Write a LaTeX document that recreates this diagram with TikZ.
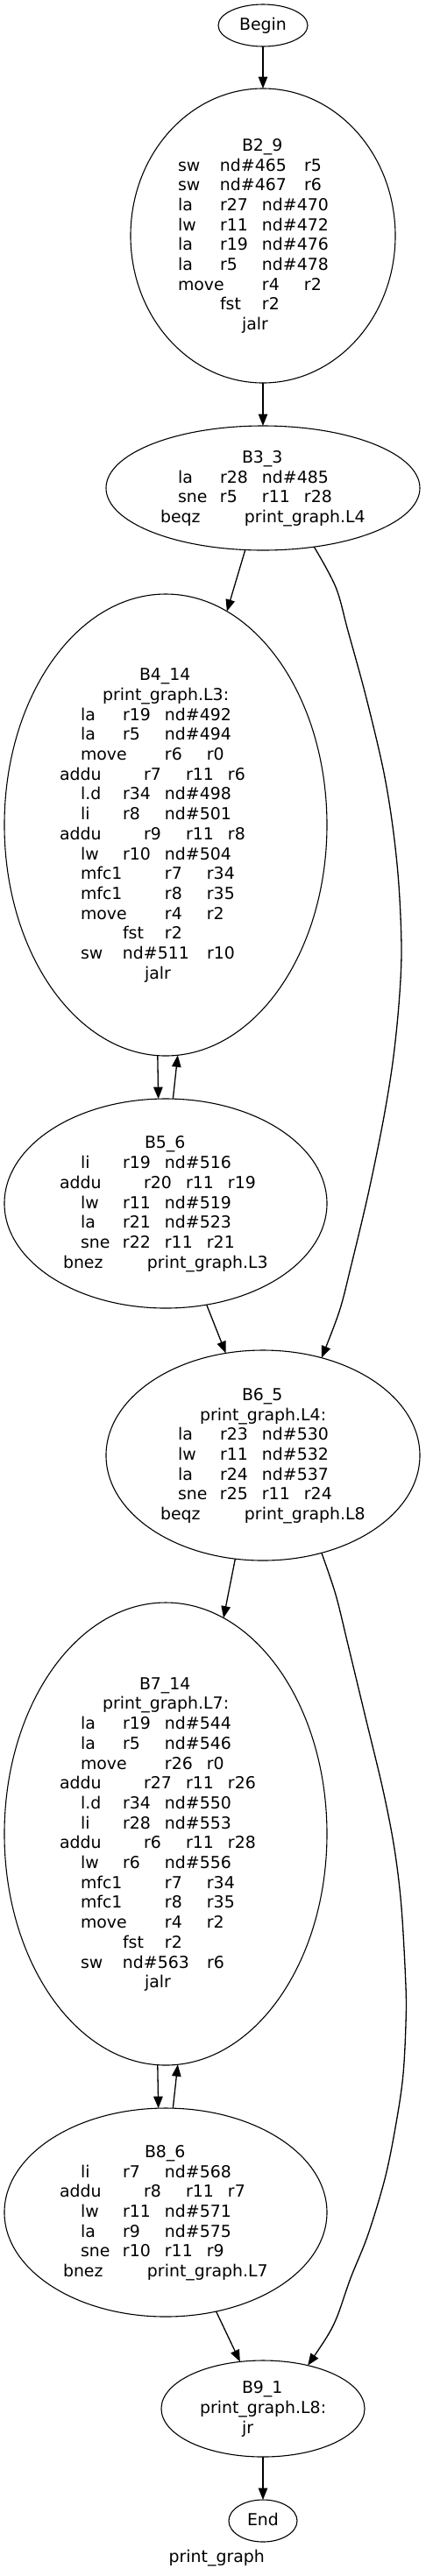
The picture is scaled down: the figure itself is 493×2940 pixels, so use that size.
\documentclass[tikz,border=0pt]{standalone}
\usepackage{fontspec}
\setmainfont{DejaVu Sans}
\usetikzlibrary{arrows.meta,shapes.geometric}
\newcommand\tk[2]{\rlap{\kern#1pt\relax#2}}
\newcommand\rw[1]{\hbox to 0pt{\vrule height16.85pt depth5.85pt width0pt\raisebox{0pt}[0pt][0pt]{\hbox to 0pt{#1\hss}}\hss}}
\newcommand\blktext[1]{\vbox{\offinterlineskip #1}}
\newcommand\st{\vrule height16.85pt depth5.85pt width0pt}
\tikzset{
  bb/.style={draw, ellipse, line width=1.1pt, inner sep=0pt, outer sep=0pt,
    font=\fontsize{18.9}{22.7}\selectfont},
  edge/.style={line width=1.3pt, -{Triangle[length=13.5pt,width=10.5pt]}},
  lbl/.style={inner sep=0pt, font=\fontsize{18.9}{22.7}\selectfont},
}
\begin{document}
\begin{tikzpicture}[x=1pt,y=-1pt]
\fill[white] (0,0) rectangle (493,2940);
\useasboundingbox (0,0) rectangle (493,2940);

\node[bb, minimum width=102pt, minimum height=48pt] (begin) at (300,29) {\st Begin};

\node[bb, minimum width=302pt, minimum height=336pt] (b2) at (300,269) {\blktext{%
\rw{\tk{-24}{B2\_9}}
\rw{\tk{-97}{sw}\tk{-49}{nd\#465}\tk{47}{r5}}
\rw{\tk{-97}{sw}\tk{-49}{nd\#467}\tk{47}{r6}}
\rw{\tk{-97}{la}\tk{-49}{r27}\tk{-1}{nd\#470}}
\rw{\tk{-97}{lw}\tk{-49}{r11}\tk{-1}{nd\#472}}
\rw{\tk{-97}{la}\tk{-49}{r19}\tk{-1}{nd\#476}}
\rw{\tk{-97}{la}\tk{-49}{r5}\tk{-1}{nd\#478}}
\rw{\tk{-97}{move}\tk{-1}{r4}\tk{47}{r2}}
\rw{\tk{-49}{fst}\tk{-1}{r2}}
\rw{\tk{-24}{jalr}}}};

\node[bb, minimum width=358pt, minimum height=142pt] (b3) at (300,557) {\blktext{%
\rw{\tk{-24}{B3\_3}}
\rw{\tk{-97}{la}\tk{-49}{r28}\tk{-1}{nd\#485}}
\rw{\tk{-97}{sne}\tk{-49}{r5}\tk{-1}{r11}\tk{47}{r28}}
\rw{\tk{-117}{beqz}\tk{-21}{print\_graph.L4}}}};

\node[bb, minimum width=368pt, minimum height=527pt] (b4) at (189,941.5) {\blktext{%
\rw{\tk{-30}{B4\_14}}
\rw{\tk{-72}{print\_graph.L3:}}
\rw{\tk{-97}{la}\tk{-49}{r19}\tk{-1}{nd\#492}}
\rw{\tk{-97}{la}\tk{-49}{r5}\tk{-1}{nd\#494}}
\rw{\tk{-97}{move}\tk{-1}{r6}\tk{47}{r0}}
\rw{\tk{-121}{addu}\tk{-25}{r7}\tk{23}{r11}\tk{71}{r6}}
\rw{\tk{-97}{l.d}\tk{-49}{r34}\tk{-1}{nd\#498}}
\rw{\tk{-97}{li}\tk{-49}{r8}\tk{-1}{nd\#501}}
\rw{\tk{-121}{addu}\tk{-25}{r9}\tk{23}{r11}\tk{71}{r8}}
\rw{\tk{-97}{lw}\tk{-49}{r10}\tk{-1}{nd\#504}}
\rw{\tk{-97}{mfc1}\tk{-1}{r7}\tk{47}{r34}}
\rw{\tk{-97}{mfc1}\tk{-1}{r8}\tk{47}{r35}}
\rw{\tk{-97}{move}\tk{-1}{r4}\tk{47}{r2}}
\rw{\tk{-49}{fst}\tk{-1}{r2}}
\rw{\tk{-97}{sw}\tk{-49}{nd\#511}\tk{47}{r10}}
\rw{\tk{-24}{jalr}}}};

\node[bb, minimum width=368pt, minimum height=239pt] (b5) at (189,1373.5) {\blktext{%
\rw{\tk{-24}{B5\_6}}
\rw{\tk{-97}{li}\tk{-49}{r19}\tk{-1}{nd\#516}}
\rw{\tk{-121}{addu}\tk{-25}{r20}\tk{23}{r11}\tk{71}{r19}}
\rw{\tk{-97}{lw}\tk{-49}{r11}\tk{-1}{nd\#519}}
\rw{\tk{-97}{la}\tk{-49}{r21}\tk{-1}{nd\#523}}
\rw{\tk{-97}{sne}\tk{-49}{r22}\tk{-1}{r11}\tk{47}{r21}}
\rw{\tk{-117}{bnez}\tk{-21}{print\_graph.L3}}}};

\node[bb, minimum width=358pt, minimum height=240pt] (b6) at (300,1661) {\blktext{%
\rw{\tk{-24}{B6\_5}}
\rw{\tk{-72}{print\_graph.L4:}}
\rw{\tk{-97}{la}\tk{-49}{r23}\tk{-1}{nd\#530}}
\rw{\tk{-97}{lw}\tk{-49}{r11}\tk{-1}{nd\#532}}
\rw{\tk{-97}{la}\tk{-49}{r24}\tk{-1}{nd\#537}}
\rw{\tk{-97}{sne}\tk{-49}{r25}\tk{-1}{r11}\tk{47}{r24}}
\rw{\tk{-117}{beqz}\tk{-21}{print\_graph.L8}}}};

\node[bb, minimum width=368pt, minimum height=528pt] (b7) at (189,2093) {\blktext{%
\rw{\tk{-30}{B7\_14}}
\rw{\tk{-72}{print\_graph.L7:}}
\rw{\tk{-97}{la}\tk{-49}{r19}\tk{-1}{nd\#544}}
\rw{\tk{-97}{la}\tk{-49}{r5}\tk{-1}{nd\#546}}
\rw{\tk{-97}{move}\tk{-1}{r26}\tk{47}{r0}}
\rw{\tk{-121}{addu}\tk{-25}{r27}\tk{23}{r11}\tk{71}{r26}}
\rw{\tk{-97}{l.d}\tk{-49}{r34}\tk{-1}{nd\#550}}
\rw{\tk{-97}{li}\tk{-49}{r28}\tk{-1}{nd\#553}}
\rw{\tk{-121}{addu}\tk{-25}{r6}\tk{23}{r11}\tk{71}{r28}}
\rw{\tk{-97}{lw}\tk{-49}{r6}\tk{-1}{nd\#556}}
\rw{\tk{-97}{mfc1}\tk{-1}{r7}\tk{47}{r34}}
\rw{\tk{-97}{mfc1}\tk{-1}{r8}\tk{47}{r35}}
\rw{\tk{-97}{move}\tk{-1}{r4}\tk{47}{r2}}
\rw{\tk{-49}{fst}\tk{-1}{r2}}
\rw{\tk{-97}{sw}\tk{-49}{nd\#563}\tk{47}{r6}}
\rw{\tk{-24}{jalr}}}};

\node[bb, minimum width=368pt, minimum height=238pt] (b8) at (189,2525) {\blktext{%
\rw{\tk{-24}{B8\_6}}
\rw{\tk{-97}{li}\tk{-49}{r7}\tk{-1}{nd\#568}}
\rw{\tk{-121}{addu}\tk{-25}{r8}\tk{23}{r11}\tk{71}{r7}}
\rw{\tk{-97}{lw}\tk{-49}{r11}\tk{-1}{nd\#571}}
\rw{\tk{-97}{la}\tk{-49}{r9}\tk{-1}{nd\#575}}
\rw{\tk{-97}{sne}\tk{-49}{r10}\tk{-1}{r11}\tk{47}{r9}}
\rw{\tk{-117}{bnez}\tk{-21}{print\_graph.L7}}}};

\node[bb, minimum width=232pt, minimum height=110pt] (b9) at (300,2749) {\blktext{%
\rw{\tk{-24}{B9\_1}}
\rw{\tk{-72}{print\_graph.L8:}}
\rw{\tk{-24}{jr}}}};

\node[bb, minimum width=78pt, minimum height=48pt] (end) at (300,2877) {\st End};

\node[lbl, anchor=base west] (title) at (192.5,2924) {print\_graph};

% edges
\draw[edge] (begin) -- (b2);
\draw[edge] (b2) -- (b3);
\draw[edge] (b3.-106.5) -- (b4.74);
\draw[edge] plot[smooth, tension=0.55] coordinates {(b3.-49.5) (383,670) (397,720) (417,793) (437,877) (448,943) (455,1010) (458,1085) (455,1147) (448,1213) (437,1280) (420,1363) (400,1447) (387,1497) (b6.59.6)};
\draw[edge] (b4.-92) -- (b5.94.3);
\draw[edge] (b5.86) -- (b4.-87.9);
\draw[edge] (b5.-68.6) -- (b6.110.8);
\draw[edge] (b6.-105.2) -- (b7.75.2);
\draw[edge] plot[smooth, tension=0.55] coordinates {(b6.-59.5) (383,1820) (397,1877) (417,1960) (437,2043) (450,2110) (458,2177) (463,2267) (463,2310) (460,2367) (453,2417) (440,2483) (420,2550) (400,2600) (385,2643) (373,2667) (b9.44)};
\draw[edge] (b7.-92) -- (b8.94.3);
\draw[edge] (b8.86) -- (b7.-87.9);
\draw[edge] (b8.-63.6) -- (b9.116.1);
\draw[edge] (b9) -- (end);
\end{tikzpicture}
\end{document}
